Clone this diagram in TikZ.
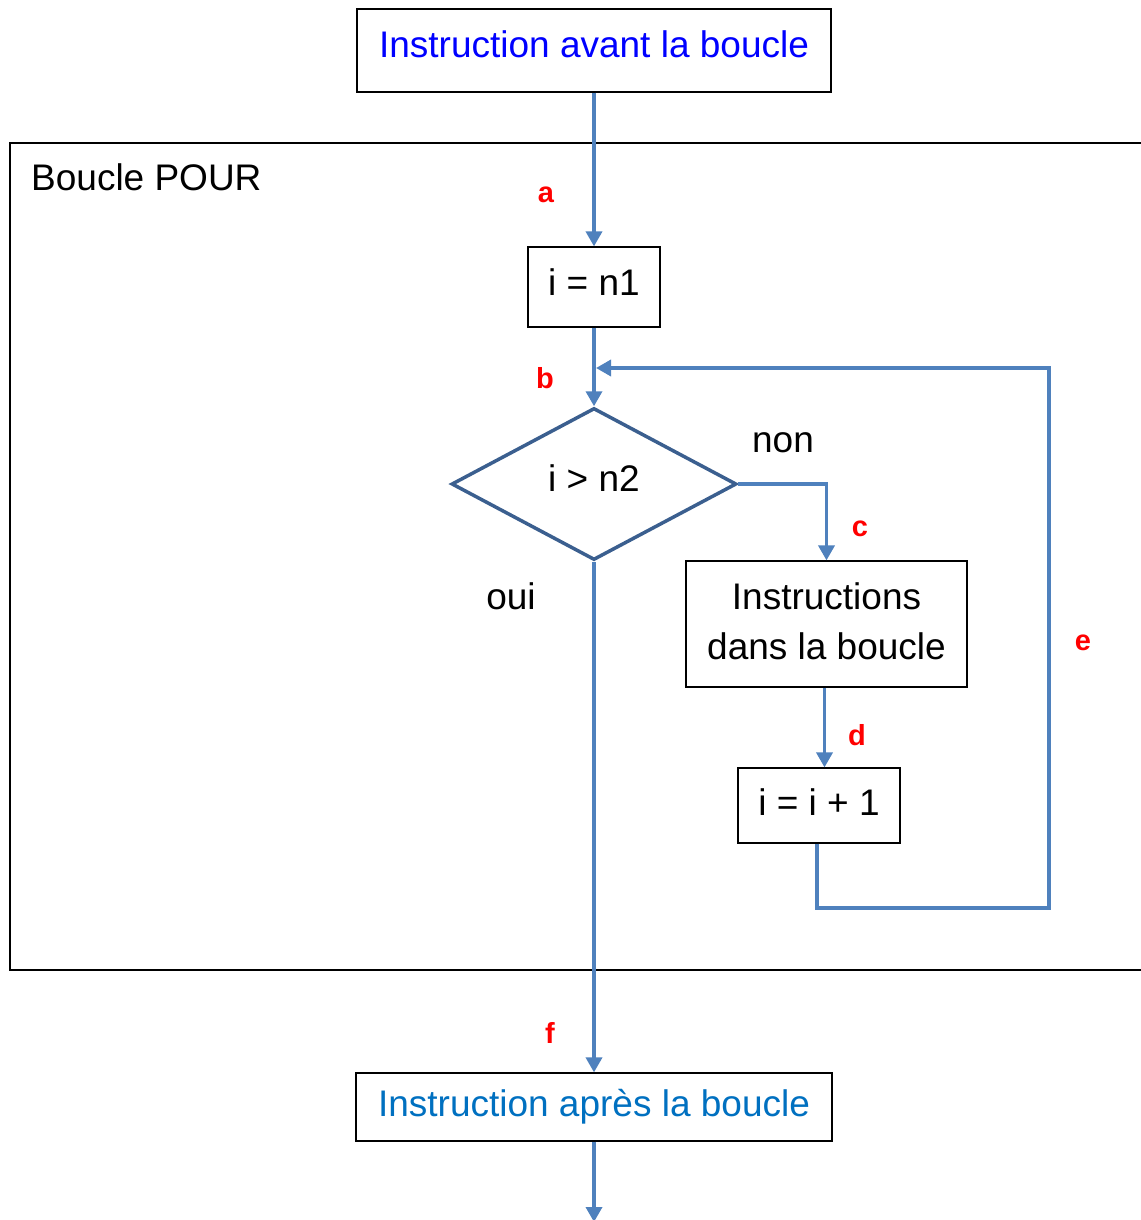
\documentclass[tikz,border=0pt]{standalone}
\usepackage{fontspec}
\setmainfont{Liberation Sans}
\usetikzlibrary{arrows.meta,shapes.geometric}
\definecolor{flowblue}{HTML}{4F81BD}
\definecolor{diablue}{HTML}{3B5F8F}
\definecolor{bluetxt}{HTML}{0000FF}
\definecolor{bluetxt2}{HTML}{0070C0}
\tikzset{
  box/.style={draw=black, line width=1.2pt, inner sep=0pt, align=center, font=\fontsize{37}{50}\selectfont},
  flow/.style={draw=flowblue, line width=3.5pt, -{Triangle[length=15pt,width=16pt]}},
  lbl/.style={text=red, font=\fontsize{29}{32}\selectfont\bfseries, inner sep=0pt},
  txt/.style={font=\fontsize{37}{44}\selectfont, inner sep=0pt}
}
\begin{document}
\begin{tikzpicture}[x=1pt,y=-1pt]
\useasboundingbox (0,0) rectangle (1140,1220);
% frame
\draw[black, line width=1.2pt] (1145,143) -- (10,143) -- (10,970) -- (1145,970);
\node[txt, anchor=west] (frametitle) at (31,177) {Boucle POUR};
% nodes
\node[box, minimum width=474pt, minimum height=83pt, text=bluetxt] (top) at (594,50.5) {\raisebox{12pt}{Instruction avant la boucle}};
\node[box, minimum width=132pt, minimum height=80pt] (n1) at (594,287) {\raisebox{9pt}{i = n1}};
\node[draw=diablue, line width=3.5pt, shape=diamond, minimum width=285pt, minimum height=152pt, inner sep=0pt, font=\fontsize{37}{44}\selectfont] (dia) at (594,484) {\raisebox{11pt}{i > n2}};
\node[box, minimum width=281pt, minimum height=126pt] (instr) at (826.5,624) {\raisebox{8pt}{\begin{tabular}{@{}c@{}}Instructions\\dans la boucle\end{tabular}}};
\node[box, minimum width=162pt, minimum height=75pt] (inc) at (819,805.5) {\raisebox{7pt}{i = i + 1}};
\node[box, minimum width=476pt, minimum height=68pt, text=bluetxt2] (bot) at (594,1107) {Instruction après la boucle};
% coordinates
\coordinate (ret) at (596,368);
\coordinate (lr) at (1049,908);
\coordinate (end) at (594,1222);
% connectors
\draw[flow] (top.south) -- (n1.north);
\draw[flow] (n1.south) -- (dia.north);
\draw[flow] (dia.east) -| (instr.north);
\draw[flow] ([xshift=-2pt]instr.south) -- ([xshift=-2pt]instr.south |- inc.north);
\draw[flow] ([xshift=-2pt]inc.south) |- (lr) |- (ret);
\draw[flow] (dia.south) -- (bot.north);
\draw[flow] (bot.south) -- (end);
% labels
\node[txt] (non) at (783,443) {non};
\node[txt] (oui) at (511,596) {oui};
\node[lbl] (la) at (546,195) {a};
\node[lbl] (lb) at (545,378) {b};
\node[lbl] (lc) at (860,529) {c};
\node[lbl] (ld) at (857,735) {d};
\node[lbl] (le) at (1083,643) {e};
\node[lbl] (lf) at (550,1033) {f};
\end{tikzpicture}
\end{document}
